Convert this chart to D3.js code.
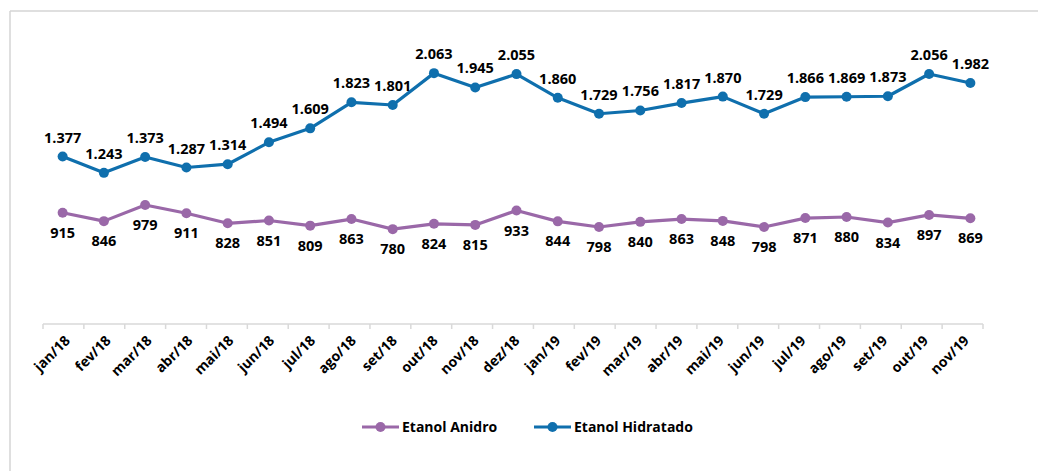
<!DOCTYPE html>
<html>
<head>
<meta charset="utf-8">
<script src="https://cdn.jsdelivr.net/npm/d3@7"></script>
<style>
  body { margin: 0; background: #fff; }
  text { font-family: "Open Sans", sans-serif; font-weight: bold; fill: #000; }
</style>
</head>
<body>
<div id="chart"></div>
<script>
const months = ['jan/18','fev/18','mar/18','abr/18','mai/18','jun/18','jul/18','ago/18','set/18','out/18','nov/18','dez/18',
                'jan/19','fev/19','mar/19','abr/19','mai/19','jun/19','jul/19','ago/19','set/19','out/19','nov/19'];
const anidro    = [915, 846, 979, 911, 828, 851, 809, 863, 780, 824, 815, 933, 844, 798, 840, 863, 848, 798, 871, 880, 834, 897, 869];
const hidratado = [1377, 1243, 1373, 1287, 1314, 1494, 1609, 1823, 1801, 2063, 1945, 2055, 1860, 1729, 1756, 1817, 1870, 1729, 1866, 1869, 1873, 2056, 1982];
const seriesNames = ['Etanol Anidro', 'Etanol Hidratado'];

const W = 1038, H = 471;
const colors = { anidro: '#9a68a8', hidratado: '#0f6fad' };
const fmt = v => d3.format(',')(v).replace(/,/g, '.');

const svg = d3.select('#chart').append('svg')
  .attr('width', W).attr('height', H);

// frame (top + left edges visible)
svg.append('line').attr('x1', 10).attr('x2', W).attr('y1', 11).attr('y2', 11)
  .attr('stroke', '#d4d4d4').attr('stroke-width', 1.5);
svg.append('line').attr('x1', 10).attr('x2', 10).attr('y1', 11).attr('y2', H)
  .attr('stroke', '#d4d4d4').attr('stroke-width', 1.5);

// marks scale and axis scale
const x = d3.scaleBand().domain(months).range([42, 991]).padding(0);
const xa = d3.scaleBand().domain(months).range([43, 983]).padding(0);
const y = d3.scaleLinear().domain([0, 2500]).range([324, 20]);
const cx = d => x(d) + x.bandwidth() / 2;

// category axis
const axis = svg.append('g').attr('transform', 'translate(0,324)');
axis.append('line').attr('x1', 43).attr('x2', 983)
  .attr('stroke', '#d9d9d9').attr('stroke-width', 1.5);
axis.selectAll('.tick').data(months.concat([null])).enter().append('line')
  .attr('x1', d => d === null ? xa.range()[1] : xa(d))
  .attr('x2', d => d === null ? xa.range()[1] : xa(d))
  .attr('y1', 0).attr('y2', 5)
  .attr('stroke', '#d9d9d9').attr('stroke-width', 1.5);
axis.selectAll('.lab').data(months).enter().append('text')
  .attr('transform', d => `translate(${xa(d) + xa.bandwidth() / 2 + 4},${14}) rotate(-45)`)
  .attr('text-anchor', 'end')
  .attr('dy', '0.35em')
  .style('font-size', '14px')
  .text(d => d);

const line = d3.line().x((d, i) => cx(months[i])).y(d => y(d));

function drawSeries(vals, color, above) {
  svg.append('path').datum(vals)
    .attr('d', line)
    .attr('fill', 'none')
    .attr('stroke', color)
    .attr('stroke-width', 3.2)
    .attr('stroke-linejoin', 'round');
  svg.selectAll(null).data(vals).enter().append('circle')
    .attr('cx', (d, i) => cx(months[i]))
    .attr('cy', d => y(d))
    .attr('r', 5)
    .attr('fill', color);
  svg.selectAll(null).data(vals).enter().append('text')
    .attr('x', (d, i) => cx(months[i]))
    .attr('y', d => above ? y(d) - 14 : y(d) + 25)
    .attr('text-anchor', 'middle')
    .style('font-size', '14.5px')
    .text(d => fmt(d));
}

drawSeries(anidro, colors.anidro, false);
drawSeries(hidratado, colors.hidratado, true);

// legend
const legend = [
  { name: seriesNames[0], color: colors.anidro, x: 362 },
  { name: seriesNames[1], color: colors.hidratado, x: 534 }
];
const lg = svg.append('g').attr('transform', 'translate(0,427)');
legend.forEach(l => {
  lg.append('line').attr('x1', l.x).attr('x2', l.x + 37).attr('y1', 0).attr('y2', 0)
    .attr('stroke', l.color).attr('stroke-width', 3.2);
  lg.append('circle').attr('cx', l.x + 18.5).attr('cy', 0).attr('r', 5).attr('fill', l.color);
  lg.append('text').attr('x', l.x + 40).attr('y', 0).attr('dy', '0.35em')
    .style('font-size', '14px').text(l.name);
});
</script>
</body>
</html>
